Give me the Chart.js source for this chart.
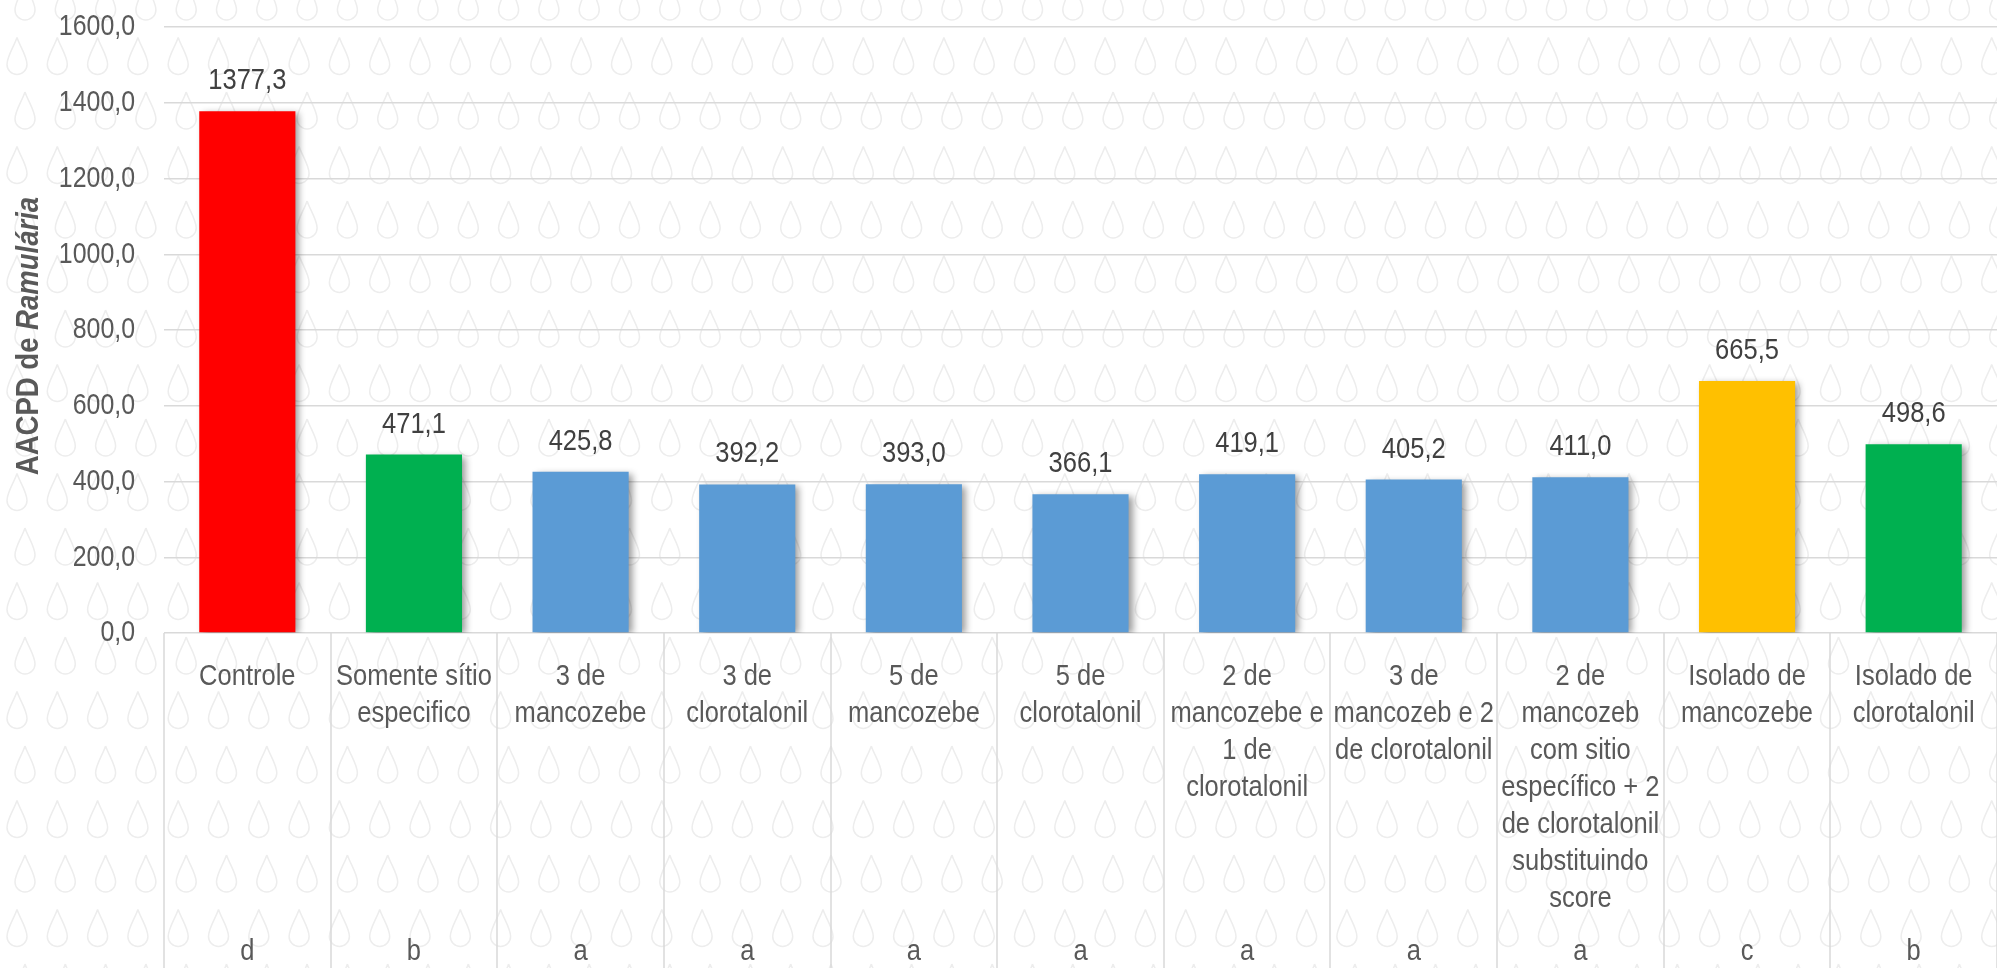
<!DOCTYPE html>
<html>
<head>
<meta charset="utf-8">
<script src="https://cdn.jsdelivr.net/npm/chart.js@4.4.0/dist/chart.umd.min.js"></script>
<style>
  html, body { margin: 0; padding: 0; background: #fff; }
</style>
</head>
<body>
<canvas id="bar-chart" width="1997" height="968"></canvas>
<script>
// data
var categories = [
  ["Controle"],
  ["Somente sítio", "especifico"],
  ["3 de", "mancozebe"],
  ["3 de", "clorotalonil"],
  ["5 de", "mancozebe"],
  ["5 de", "clorotalonil"],
  ["2 de", "mancozebe e", "1 de", "clorotalonil"],
  ["3 de", "mancozeb e 2", "de clorotalonil"],
  ["2 de", "mancozeb", "com sitio", "específico + 2", "de clorotalonil", "substituindo", "score"],
  ["Isolado de", "mancozebe"],
  ["Isolado de", "clorotalonil"]
];
var values = [1377.3, 471.1, 425.8, 392.2, 393.0, 366.1, 419.1, 405.2, 411.0, 665.5, 498.6];
var letters = ["d", "b", "a", "a", "a", "a", "a", "a", "a", "c", "b"];
var barColors = ["#FF0000", "#00B050", "#5B9BD5", "#5B9BD5", "#5B9BD5", "#5B9BD5",
                 "#5B9BD5", "#5B9BD5", "#5B9BD5", "#FFC000", "#00B050"];
var yMin = 0, yMax = 1600, yStep = 200;

var FONT = "'Liberation Sans', Arial, sans-serif";
var fmt = function (v) { return v.toFixed(1).replace('.', ','); };

// the original uses a narrow font, so squeeze Liberation Sans sideways
function narrowText(ctx, text, x, y, font, sx, align) {
  ctx.save();
  ctx.font = font;
  ctx.textAlign = align || 'center';
  ctx.textBaseline = 'middle';
  ctx.translate(x, y);
  ctx.scale(sx, 1);
  ctx.fillText(text, 0, 0);
  ctx.restore();
}

// faint drop pattern behind everything
function drop(ctx, cx, cy) {
  ctx.beginPath();
  ctx.moveTo(cx, cy - 19);
  ctx.bezierCurveTo(cx - 3, cy - 10, cx - 10, cy, cx - 10, cy + 8);
  ctx.arc(cx, cy + 8, 10, Math.PI, 0, true);
  ctx.bezierCurveTo(cx + 10, cy, cx + 3, cy - 10, cx, cy - 19);
  ctx.stroke();
}
var background = {
  id: 'background',
  beforeDraw: function (chart) {
    var ctx = chart.ctx;
    ctx.save();
    ctx.fillStyle = '#ffffff';
    ctx.fillRect(0, 0, chart.width, chart.height);
    ctx.strokeStyle = '#ededed';
    ctx.lineWidth = 1.5;
    for (var r = 0; r < 19; r++) {
      var cy = 2 + r * 54.5;
      var x0 = (r % 2 === 0) ? 25 : 17;
      for (var c = 0; c < 51; c++) {
        drop(ctx, x0 + c * 40.3, cy);
      }
    }
    ctx.restore();
  }
};

var shadow = {
  id: 'shadow',
  beforeDatasetsDraw: function (chart) {
    var ctx = chart.ctx;
    ctx.save();
    ctx.shadowColor = 'rgba(0,0,0,0.4)';
    ctx.shadowBlur = 7;
    ctx.shadowOffsetX = 4;
    ctx.shadowOffsetY = 2;
  },
  afterDatasetsDraw: function (chart) {
    chart.ctx.restore();
  }
};

var valueLabels = {
  id: 'valueLabels',
  afterDatasetsDraw: function (chart) {
    var ctx = chart.ctx;
    var meta = chart.getDatasetMeta(0);
    ctx.save();
    ctx.fillStyle = '#404040';
    meta.data.forEach(function (bar, i) {
      narrowText(ctx, fmt(values[i]), bar.x, bar.y - 30, '29px ' + FONT, 0.88);
    });
    ctx.restore();
  }
};

// tick texts, category separators, letters and the y title
var extras = {
  id: 'extras',
  afterDraw: function (chart) {
    var ctx = chart.ctx;
    var x = chart.scales.x;
    var y = chart.scales.y;
    var area = chart.chartArea;
    var half = (x.getPixelForValue(1) - x.getPixelForValue(0)) / 2;

    ctx.save();
    ctx.strokeStyle = '#d9d9d9';
    ctx.lineWidth = 1.5;
    for (var i = 0; i <= categories.length; i++) {
      var px = Math.round(x.getPixelForValue(i) - half);
      ctx.beginPath();
      ctx.moveTo(px, area.bottom);
      ctx.lineTo(px, chart.height);
      ctx.stroke();
    }
    ctx.restore();

    ctx.save();
    ctx.fillStyle = '#595959';
    y.ticks.forEach(function (t) {
      narrowText(ctx, fmt(t.value), area.left - 29, y.getPixelForValue(t.value), '30px ' + FONT, 0.83, 'right');
    });
    categories.forEach(function (lines, i) {
      var cx = x.getPixelForValue(i);
      lines.forEach(function (line, k) {
        narrowText(ctx, line, cx, area.bottom + 44 + k * 37, '29px ' + FONT, 0.88);
      });
      narrowText(ctx, letters[i], cx, chart.height - 16, '29px ' + FONT, 0.88);
    });
    ctx.restore();

    var a = 'AACPD de ', b = 'Ramulária';
    var sx = 0.86;
    ctx.save();
    ctx.translate(29, (area.top + area.bottom) / 2 + 6);
    ctx.rotate(-Math.PI / 2);
    ctx.scale(sx, 1);
    ctx.fillStyle = '#595959';
    ctx.textBaseline = 'middle';
    ctx.textAlign = 'left';
    ctx.font = 'bold 32px ' + FONT;
    var wa = ctx.measureText(a).width;
    ctx.font = 'italic bold 32px ' + FONT;
    var wb = ctx.measureText(b).width;
    var start = -(wa + wb) / 2;
    ctx.font = 'bold 32px ' + FONT;
    ctx.fillText(a, start, 0);
    ctx.font = 'italic bold 32px ' + FONT;
    ctx.fillText(b, start + wa, 0);
    ctx.restore();
  }
};

new Chart(document.getElementById("bar-chart"), {
  type: 'bar',
  data: {
    labels: categories,
    datasets: [{
      label: 'AACPD',
      data: values,
      backgroundColor: barColors,
      borderWidth: 0,
      barPercentage: 0.577,
      categoryPercentage: 1.0
    }]
  },
  options: {
    responsive: false,
    animation: false,
    layout: { padding: { top: 27, left: 0, right: 0, bottom: 0 } },
    plugins: {
      legend: { display: false },
      tooltip: { enabled: false }
    },
    scales: {
      x: {
        type: 'category',
        offset: true,
        grid: { display: false, drawTicks: false },
        border: { display: false },
        ticks: { display: false },
        afterFit: function (s) { s.height = 335; }
      },
      y: {
        min: yMin,
        max: yMax,
        border: { display: false },
        grid: { color: '#d9d9d9', lineWidth: 1.5, drawTicks: false },
        ticks: { stepSize: yStep, display: false },
        afterFit: function (s) { s.width = 164; }
      }
    }
  },
  plugins: [background, shadow, valueLabels, extras]
});
</script>
</body>
</html>
